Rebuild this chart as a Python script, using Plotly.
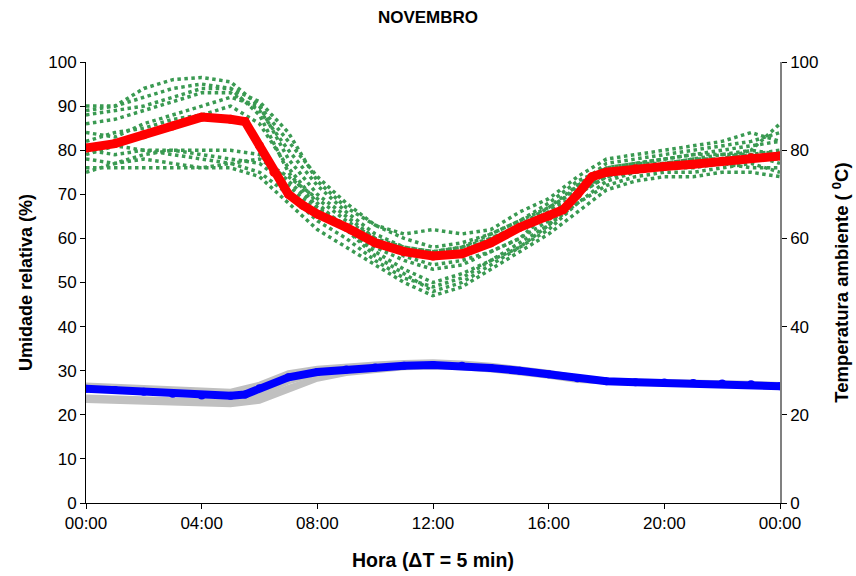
import plotly.graph_objects as go

hours = list(range(25))
tick_vals = [0, 4, 8, 12, 16, 20, 24]
tick_text = ["00:00", "04:00", "08:00", "12:00", "16:00", "20:00", "00:00"]

# Relative humidity, individual days (%), hourly readings
rh_d1 = [89, 90, 94, 96, 96.5, 95.5, 90, 78, 70, 65, 60, 56, 54, 55, 57, 60, 66, 72, 76, 77, 78, 79, 80, 81, 82]
rh_d2 = [90, 90, 92, 94, 95, 94, 88, 75, 67, 62, 57, 53, 50, 52, 55, 58, 63, 70, 74, 76, 77, 78, 78, 80, 79]
rh_d3 = [86, 87, 89, 91, 93, 93, 89, 80, 72, 66, 61, 58, 57, 58, 60, 63, 67, 72, 77, 78, 79, 80, 81, 82, 84]
rh_d4 = [84, 83, 86, 88, 90, 92, 90, 82, 74, 68, 63, 60, 58, 59, 61, 64, 68, 73, 76, 77, 77, 78, 79, 80, 86]
rh_d5 = [82, 84, 85, 87, 88, 90, 86, 76, 68, 62, 56, 52, 48, 50, 54, 58, 62, 68, 73, 75, 76, 76, 77, 78, 78]
rh_d6 = [80, 79, 80, 80, 79, 78, 77, 72, 66, 62, 58, 55, 53, 54, 57, 60, 64, 70, 74, 75, 76, 77, 77, 76, 76]
rh_d7 = [78, 77, 78, 77, 76, 77, 75, 70, 64, 60, 55, 51, 49, 51, 55, 59, 63, 68, 72, 74, 75, 75, 76, 77, 75]
rh_d8 = [76, 76, 76, 76, 76, 76, 74, 68, 62, 58, 54, 50, 47, 49, 53, 57, 61, 66, 71, 73, 74, 74, 75, 75, 74]
rh_d9 = [75, 77, 79, 80, 80, 80, 79, 73, 67, 63, 59, 57, 56, 57, 60, 63, 66, 70, 75, 77, 78, 79, 79, 79, 80]
rh_d10 = [79, 81, 80, 79, 78, 77, 78, 74, 69, 64, 60, 58, 57, 58, 61, 64, 67, 71, 75, 76, 77, 77, 78, 79, 77]
rh_d11 = [88, 89, 90, 92, 94, 94, 91, 84, 73, 67, 63, 61, 62, 61, 62, 66, 69, 74, 78, 79, 80, 81, 82, 84, 82]
rh_days = [rh_d1, rh_d2, rh_d3, rh_d4, rh_d5, rh_d6, rh_d7, rh_d8, rh_d9, rh_d10, rh_d11]

# Mean relative humidity (%)
rh_mean_h = [0, 1, 2, 3, 4, 5, 5.5, 6, 6.5, 7, 7.5, 8, 9, 10, 11, 12, 13, 14, 15, 16, 16.5, 17, 17.5, 18, 19, 20, 21, 22, 23, 24]
rh_mean = [80.5, 81.5, 83.5, 85.5, 87.5, 87, 86.5, 81, 75, 70, 67.5, 65.5, 62.5, 59, 57, 56, 56.5, 59, 62.5, 65, 66.5, 70, 74, 75, 75.8, 76.3, 76.8, 77.5, 78.3, 78.7]

# Ambient temperature, individual days (°C)
t_d1 = [26.8, 26.5, 26.1, 25.8, 25.5, 25.4, 27.0, 29.6, 30.6, 31.2, 31.6, 31.9, 32.1, 31.8, 31.3, 30.5, 29.7, 28.6, 27.9, 27.7, 27.6, 27.5, 27.4, 27.2, 26.9]
t_d2 = [26.5, 26.2, 25.8, 25.5, 25.1, 24.9, 26.2, 28.6, 29.6, 30.2, 30.7, 31.1, 31.3, 31.2, 30.8, 30.0, 29.2, 28.2, 27.6, 27.4, 27.3, 27.2, 27.0, 26.8, 26.5]
t_d3 = [23.6, 23.4, 23.1, 22.9, 22.7, 22.6, 23.6, 26.3, 28.4, 29.6, 30.3, 30.8, 31.0, 30.9, 30.3, 29.7, 28.9, 27.9, 27.4, 27.2, 27.1, 27.0, 26.9, 26.7, 26.3]
t_d4 = [23.2, 23.0, 22.8, 22.5, 22.3, 22.2, 23.0, 25.6, 28.0, 29.3, 30.0, 30.6, 30.8, 30.6, 30.1, 29.4, 28.7, 27.7, 27.3, 27.1, 27.0, 26.9, 26.8, 26.6, 26.2]
t_d5 = [26.2, 26.0, 25.7, 25.4, 25.1, 24.9, 25.8, 28.3, 29.9, 30.7, 31.2, 31.6, 31.8, 31.5, 31.1, 30.3, 29.5, 28.5, 27.8, 27.6, 27.5, 27.4, 27.3, 27.1, 26.8]
t_d6 = [24.1, 23.9, 23.7, 23.5, 23.3, 23.1, 24.4, 27.4, 29.2, 30.1, 30.6, 31.1, 31.3, 31.1, 30.6, 29.9, 29.1, 28.1, 27.6, 27.4, 27.3, 27.2, 27.1, 26.9, 26.5]
t_days = [t_d1, t_d2, t_d3, t_d4, t_d5, t_d6]

# Mean ambient temperature (°C)
t_mean_h = [0, 1, 2, 3, 4, 5, 5.5, 6, 7, 8, 9, 10, 11, 12, 13, 14, 15, 16, 17, 18, 19, 20, 21, 22, 23, 24]
t_mean = [25.9, 25.6, 25.2, 24.8, 24.4, 24.3, 24.6, 26, 28.5, 29.7, 30.3, 30.7, 31.1, 31.3, 31.1, 30.6, 30, 29.2, 28.3, 27.6, 27.4, 27.3, 27.2, 27.1, 26.9, 26.5]

fig = go.Figure()

for d in rh_days:
    fig.add_trace(go.Scatter(x=hours, y=d, mode="lines",
                             line=dict(color="#3a9a52", width=3.5, dash="dot"),
                             showlegend=False, hoverinfo="skip"))

fig.add_trace(go.Scatter(x=rh_mean_h, y=rh_mean, mode="lines+markers",
                         line=dict(color="#ff0000", width=9),
                         marker=dict(color="#ff0000", size=9),
                         showlegend=False))

for d in t_days:
    fig.add_trace(go.Scatter(x=hours, y=d, mode="lines", yaxis="y2",
                             line=dict(color="#c0c0c0", width=4.5),
                             showlegend=False, hoverinfo="skip"))

fig.add_trace(go.Scatter(x=t_mean_h, y=t_mean, mode="lines+markers", yaxis="y2",
                         line=dict(color="#0000ff", width=8),
                         marker=dict(color="#0000ff", size=8),
                         showlegend=False))

font_family = "Liberation Sans, Arial, sans-serif"

fig.update_layout(
    width=856, height=576,
    margin=dict(l=86, r=76, t=62, b=73, autoexpand=False),
    paper_bgcolor="white", plot_bgcolor="white",
    font=dict(family=font_family, color="black", size=17),
    title=dict(text="<b>NOVEMBRO</b>", x=0.5, xanchor="center", y=0.970, yanchor="middle",
               font=dict(size=17, family=font_family)),
    xaxis=dict(range=[0, 24], tickvals=tick_vals, ticktext=tick_text, automargin=False,
               showgrid=False, zeroline=False, showline=True, linecolor="black", linewidth=1,
               ticks="outside", ticklen=5, tickcolor="black",
               title=dict(text="<b>Hora (ΔT = 5 min)</b>", font=dict(size=19.5), standoff=20)),
    yaxis=dict(range=[0, 100], dtick=10, showgrid=False, zeroline=False, automargin=False,
               showline=True, linecolor="black", linewidth=1,
               ticks="outside", ticklen=5, tickcolor="black",
               title=dict(text="<b>Umidade relativa (%)</b>", font=dict(size=18), standoff=10)),
    yaxis2=dict(range=[0, 100], dtick=20, overlaying="y", side="right", automargin=False,
                showgrid=False, zeroline=False, showline=True, linecolor="#808080", linewidth=1.5,
                ticks="outside", ticklen=5, tickcolor="black",
                title=dict(text="<b>Temperatura ambiente ( <sup>0</sup>C)</b>", font=dict(size=18.5), standoff=18)),
    yaxis3=dict(range=[0, 100], dtick=20, overlaying="y", side="right", anchor="x", automargin=False,
                showgrid=False, zeroline=False, showline=False, showticklabels=False,
                ticks="inside", ticklen=5, tickcolor="black"),
)

fig.write_html("out.html")
